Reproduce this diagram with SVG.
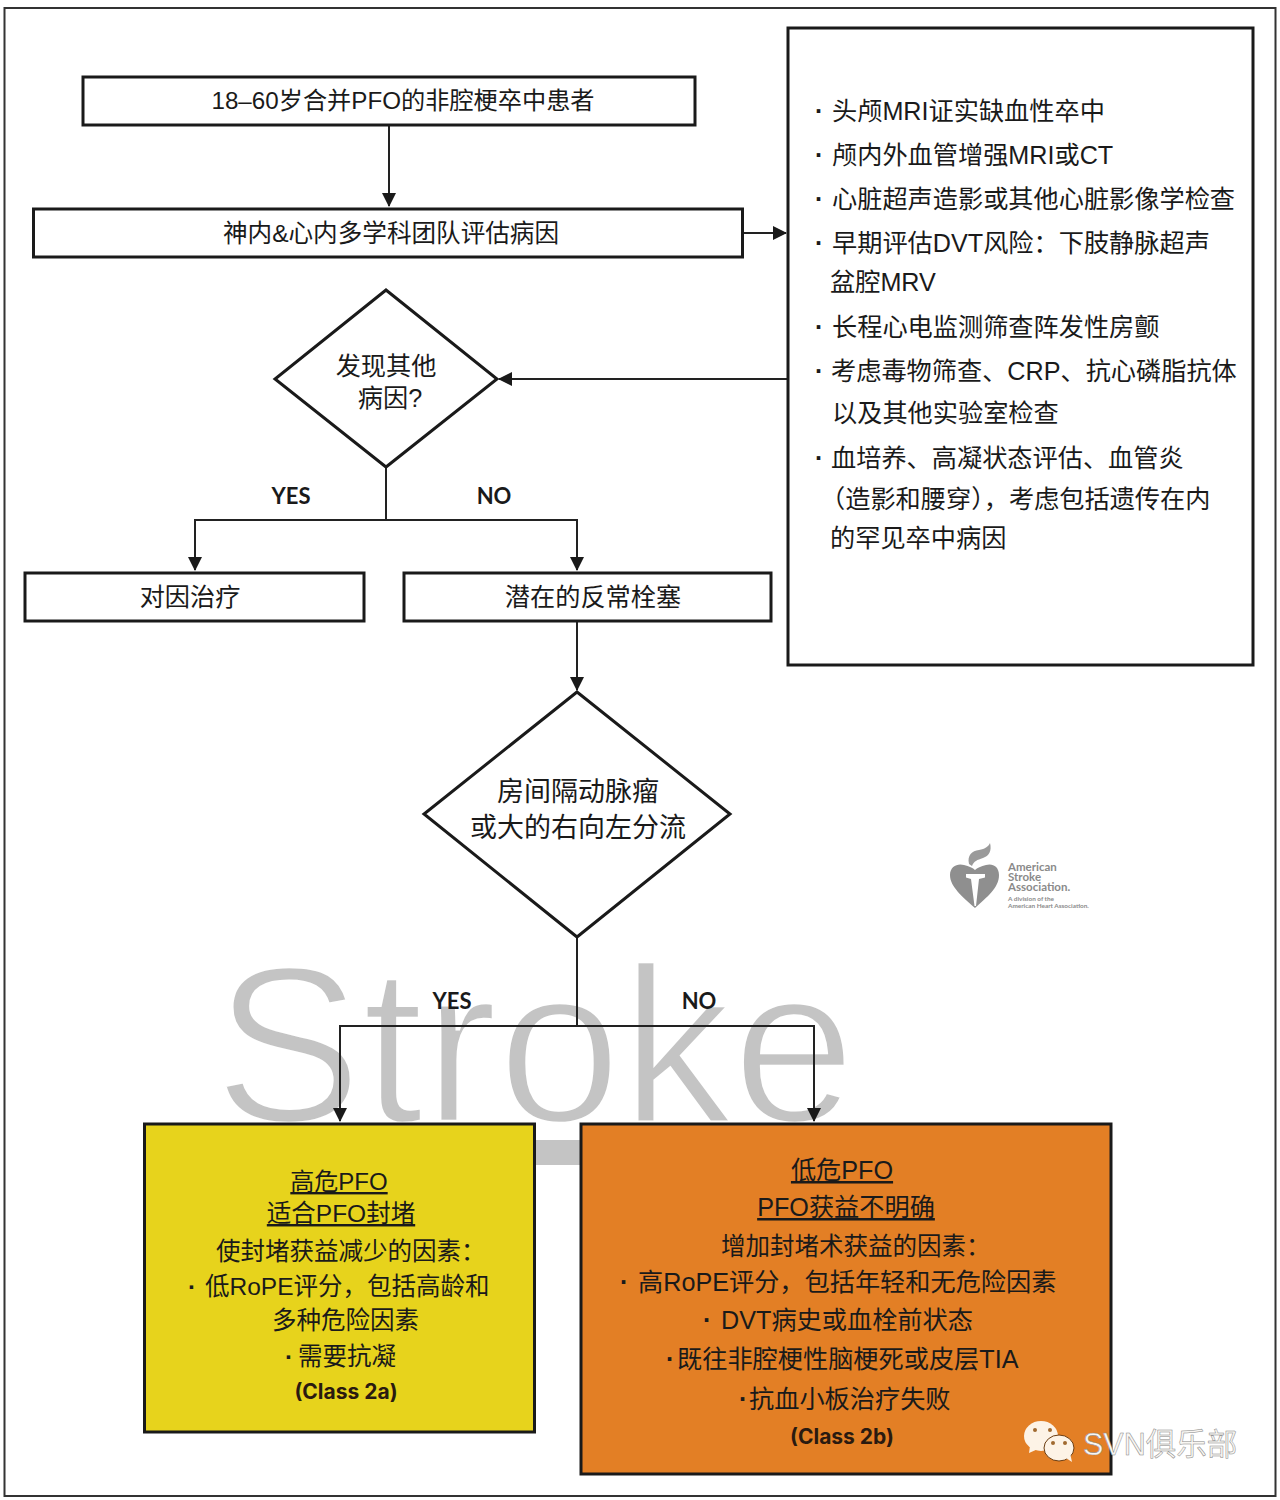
<svg xmlns="http://www.w3.org/2000/svg" width="1280" height="1500" viewBox="0 0 1280 1500">
<style>
text{font-family:"Liberation Sans","Noto Sans CJK SC",sans-serif;fill:#1a1a1a;font-size:25.200px}
.m{text-anchor:middle}
.b{fill:#fff;stroke:#1a1a1a;stroke-width:3}
.c{fill:none;stroke:#222;stroke-width:2}
.l{font-family:"Lato","Noto Sans",sans-serif;font-size:22px;font-weight:700;text-anchor:middle}
.k{font-family:"Inter","Noto Sans",sans-serif;font-size:21px;font-weight:700;text-anchor:middle;fill:#2a1a10}
.u{text-decoration:underline}
.s{font-size:24.500px}
.d{font-size:27px}
.p{font-weight:700}
.p tspan{font-weight:400}
.g{font-family:"Lato","Noto Sans",sans-serif;fill:#8a8a8a;font-weight:700;font-size:11.500px}
.h{font-family:"Lato","Noto Sans",sans-serif;fill:#8a8a8a;font-weight:700;font-size:6.400px}
</style>
<defs>
<marker id="a" markerUnits="userSpaceOnUse" markerWidth="14" markerHeight="14" refX="13" refY="7" orient="auto"><path d="M0 0L14 7L0 14Z" fill="#1a1a1a"/></marker>
</defs>
<rect width="1280" height="1500" fill="#fff"/>
<rect x="4.500" y="8" width="1271" height="1488" fill="none" stroke="#333" stroke-width="2"/>
<g id="watermark">
<text x="214" y="1122" style="font-size:222px;fill:#c4c4c4;stroke:#fff;stroke-width:4.500">Stroke</text>
<rect x="530" y="1140" width="55" height="25" fill="#c4c4c4"/>
</g>
<g id="connectors">
<path class="c" d="M389 126V206" marker-end="url(#a)"/>
<path class="c" d="M743 233H786" marker-end="url(#a)"/>
<path class="c" d="M788 379H499" marker-end="url(#a)"/>
<path class="c" d="M386 467V520"/>
<path class="c" d="M386 520H195V570" marker-end="url(#a)"/>
<path class="c" d="M386 520H577V570" marker-end="url(#a)"/>
<path class="c" d="M577 622V690" marker-end="url(#a)"/>
<path class="c" d="M577 937V1026"/>
<path class="c" d="M577 1026H340V1121" marker-end="url(#a)"/>
<path class="c" d="M577 1026H814V1121" marker-end="url(#a)"/>
</g>
<g id="n-start"><rect class="b" x="83" y="77" width="612" height="48"/><text class="m" x="403" y="109" style="font-size:24.200px">18–60岁合并PFO的非腔梗卒中患者</text></g>
<g id="n-team"><rect class="b" x="33.500" y="209" width="709" height="48"/><text class="m" x="391" y="242" style="font-size:24.600px">神内&amp;心内多学科团队评估病因</text></g>
<g id="n-workup"><rect class="b" x="788" y="28" width="465" height="637"/>
<text class="p" x="815" y="120">·<tspan x="832">头颅MRI证实缺血性卒中</tspan></text>
<text class="p" x="815" y="164">·<tspan x="832">颅内外血管增强MRI或CT</tspan></text>
<text class="p" x="815" y="208">·<tspan x="832">心脏超声造影或其他心脏影像学检查</tspan></text>
<text class="p" x="815" y="252">·<tspan x="832">早期评估DVT风险：下肢静脉超声</tspan></text>
<text x="830" y="291">盆腔MRV</text>
<text class="p" x="815" y="336">·<tspan x="832">长程心电监测筛查阵发性房颤</tspan></text>
<text class="p" x="815" y="380">·<tspan x="831">考虑毒物筛查、CRP、抗心磷脂抗体</tspan></text>
<text x="832" y="422">以及其他实验室检查</text>
<text class="p" x="815" y="467">·<tspan x="831">血培养、高凝状态评估、血管炎</tspan></text>
<text x="820" y="508">（造影和腰穿），考虑包括遗传在内</text>
<text x="830" y="547">的罕见卒中病因</text>
</g>
<g id="n-other"><path class="b" d="M386 290L497 379L386 467L275 379Z"/><text class="m" x="386" y="375">发现其他</text><text class="m" x="390" y="407">病因?</text></g>
<text class="l" x="291" y="504">YES</text>
<text class="l" x="494" y="504">NO</text>
<g id="n-treat"><rect class="b" x="25" y="573" width="339" height="48"/><text class="m" x="190" y="606">对因治疗</text></g>
<g id="n-pde"><rect class="b" x="404" y="573" width="367" height="48"/><text class="m" x="593" y="606">潜在的反常栓塞</text></g>
<g id="n-shunt"><path class="b" d="M577 692L730 814L577 937L424 814Z"/><text class="m d" x="578" y="801">房间隔动脉瘤</text><text class="m d" x="578" y="837">或大的右向左分流</text></g>
<text class="l" x="452" y="1009">YES</text>
<text class="l" x="699" y="1009">NO</text>
<g id="logo">
<path d="M975 908C963 897 950 887 950 875C950 866 958 863 964 865C969 866 973 868 975 870C977 868 981 866 986 865C992 863 999 866 999 875C999 888 987 897 975 908Z" fill="#8f8f8f"/>
<path d="M966 874H985V877.500L979 879L976 906H974.500L971 879L966 877.500Z" fill="#fff"/>
<path d="M969 864C967 855 972 851 979 850C985 849 989 846 990 843C992 851 989 856 983 858C977 860 974 861 972 866Z" fill="#9a9a9a"/>
<text class="g" x="1008" y="871">American</text><text class="g" x="1008" y="881">Stroke</text><text class="g" x="1008" y="891">Association.</text><text class="h" x="1008" y="901">A division of the</text><text class="h" x="1008" y="908">American Heart Association.</text>
</g>
<g id="n-high"><rect x="144.500" y="1124" width="390" height="308" fill="#e7d31c" stroke="#1a1a1a" stroke-width="3"/>
<text class="m u" x="339" y="1190" style="font-size:24px">高危PFO</text>
<text class="m u" x="341" y="1222" style="font-size:24.500px">适合PFO封堵</text>
<text class="s" x="216" y="1260">使封堵获益减少的因素：</text>
<text class="s p" x="188" y="1295">·<tspan x="205">低RoPE评分，包括高龄和</tspan></text>
<text class="s" x="272" y="1329">多种危险因素</text>
<text class="s p" x="285" y="1365">·<tspan x="298">需要抗凝</tspan></text>
<text class="k" x="346" y="1399">(Class 2a)</text>
</g>
<g id="n-low"><rect x="581" y="1124" width="530" height="350" fill="#e37f25" stroke="#1a1a1a" stroke-width="3"/>
<text class="m u" x="842" y="1179">低危PFO</text>
<text class="m u" x="846" y="1216">PFO获益不明确</text>
<text class="s" x="721" y="1255">增加封堵术获益的因素：</text>
<text class="p" x="620" y="1291">·<tspan x="638">高RoPE评分，包括年轻和无危险因素</tspan></text>
<text class="p" x="703" y="1329">·<tspan x="721">DVT病史或血栓前状态</tspan></text>
<text class="p" x="666" y="1368">·<tspan x="677">既往非腔梗性脑梗死或皮层TIA</tspan></text>
<text class="p" x="739" y="1408">·<tspan x="749">抗血小板治疗失败</tspan></text>
<text class="k" x="842" y="1444">(Class 2b)</text>
</g>
<g id="wechat">
<ellipse cx="1041" cy="1436" rx="17" ry="15" fill="#fdf3e6"/><path d="M1030 1446L1029 1453L1038 1449Z" fill="#fdf3e6"/>
<ellipse cx="1059" cy="1448" rx="15" ry="13" fill="#fdf3e6" stroke="#6b3c10"/><path d="M1066 1458L1072 1462L1070 1453Z" fill="#fdf3e6"/>
<circle cx="1035" cy="1430" r="2" fill="#a06a30"/><circle cx="1050" cy="1430" r="2" fill="#a06a30"/><circle cx="1053" cy="1443" r="2" fill="#a06a30"/><circle cx="1065" cy="1443" r="2" fill="#a06a30"/>
<text x="1083" y="1455" style="font-size:30.500px;fill:#f8f6f2;stroke:#888;stroke-width:.5">SVN俱乐部</text>
</g>
</svg>
